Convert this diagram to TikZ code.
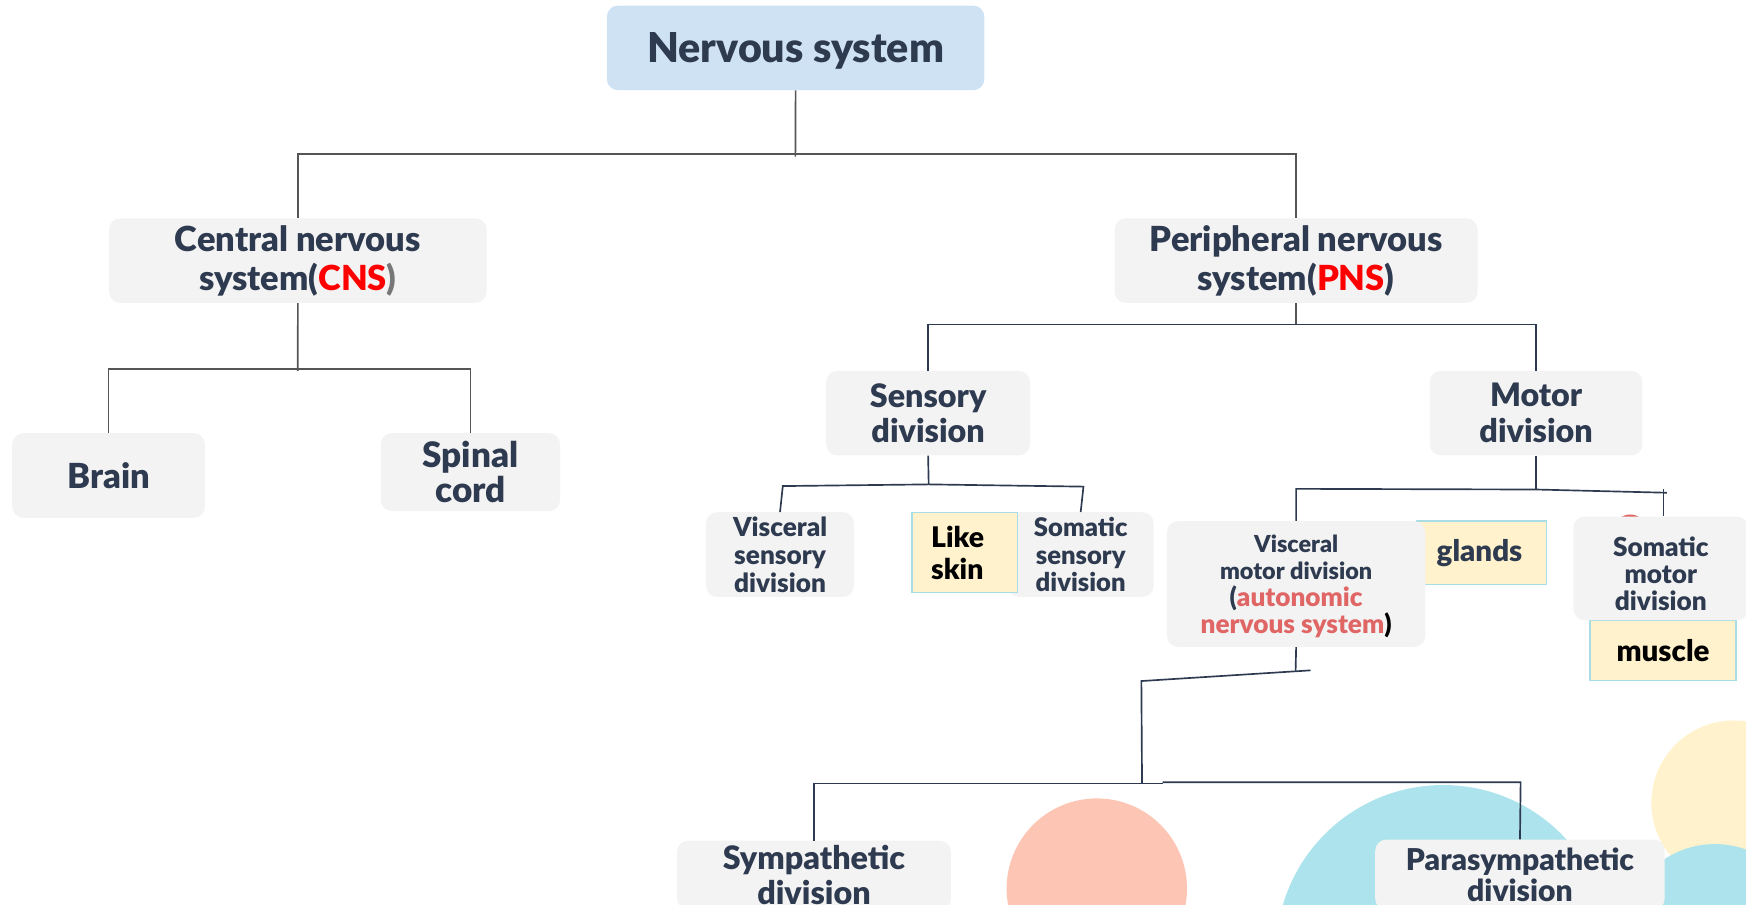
\documentclass[tikz,border=0pt]{standalone}
\usepackage{fontspec}
\setmainfont{Lato}[BoldFont={Lato Black}]
\definecolor{navy}{HTML}{2E3A4F}
\definecolor{boxgray}{HTML}{F3F3F3}
\definecolor{rootblue}{HTML}{CFE2F3}
\definecolor{noteyel}{HTML}{FFF2CC}
\definecolor{notebd}{HTML}{A9DDE5}
\definecolor{salmon}{HTML}{FDC6B4}
\definecolor{cyanc}{HTML}{ACE3EC}
\definecolor{pinkred}{HTML}{E06666}
\definecolor{pred}{HTML}{FF0000}
\definecolor{linegray}{HTML}{555555}
\newcommand\fsz[2]{\fontsize{#1}{#2}\selectfont}
\begin{document}
\begin{tikzpicture}[x=1pt,y=-1pt,
  box/.style={fill=boxgray, rounded corners=10pt, inner sep=0pt, align=center, text=navy},
  rootbox/.style={box, fill=rootblue},
  notebox/.style={draw=notebd, line width=1.2pt, fill=noteyel, inner sep=0pt, align=left},
  topline/.style={draw=linegray, line width=1.5pt},
  subline/.style={draw=navy, line width=1.5pt}]
\useasboundingbox (0,0) rectangle (1568,812);
% decorative circles
\fill[salmon] (985,798) circle[radius=81pt];
\fill[cyanc] (1296,855) circle[radius=150pt];
\fill[noteyel] (1557,721) circle[radius=74pt];
\fill[cyanc] (1540,840) circle[radius=82pt];
\fill[pinkred] (1464,477) circle[radius=15pt];
% boxes
\node[rootbox, minimum width=339pt, minimum height=76pt, font=\bfseries\fsz{37}{42}] (root) at (714.5,43) {\rule{0pt}{33pt}Nervous system};
\node[box, minimum width=339pt, minimum height=76pt, font=\bfseries\fsz{31}{35}] (cns) at (267.5,234) {Central nervous\\system(\textcolor{pred}{CNS}\textcolor{linegray!80}{)}};
\node[box, minimum width=326pt, minimum height=76pt, font=\bfseries\fsz{31}{35}] (pns) at (1164,234) {Peripheral nervous\\system(\textcolor{pred}{PNS})};
\node[box, minimum width=173pt, minimum height=76pt, font=\bfseries\fsz{31}{34}] (brain) at (97.5,427) {Brain};
\node[box, minimum width=161pt, minimum height=70pt, font=\bfseries\fsz{31.5}{32}] (spinal) at (422.5,424) {Spinal\\cord};
\node[box, minimum width=183pt, minimum height=76pt, font=\bfseries\fsz{29}{32}] (sensory) at (833.5,371) {Sensory\\division};
\node[box, minimum width=191pt, minimum height=76pt, font=\bfseries\fsz{29}{32}] (motor) at (1379.5,371) {Motor\\division};
\node[box, minimum width=133pt, minimum height=76pt, font=\bfseries\fsz{23.5}{25}] (vissens) at (700.5,498) {Visceral\\sensory\\division};
\node[box, minimum width=131pt, minimum height=76pt, font=\bfseries\fsz{23}{25}] (somsens) at (970.5,498) {Somatic\\sensory\\division};
\node[notebox, minimum width=95pt, minimum height=72pt] (likeskin) at (866.5,496) {};
\node[anchor=west, inner sep=0pt, align=left, font=\bfseries\fsz{25.5}{29}, text=black] (liketext) at (836,496.5) {Like\\skin};
\node[notebox, minimum width=131pt, minimum height=54pt, font=\bfseries\fsz{26.5}{28}, text=black, align=center] (muscle) at (1493.5,584) {\raisebox{0pt}[19pt][0pt]{}muscle};
\node[notebox, minimum width=117pt, minimum height=57pt] (glands) at (1330.5,496.5) {};
\node[anchor=west, inner sep=0pt, font=\bfseries\fsz{26.5}{28}, text=navy] (glandstext) at (1290,497) {glands};
\node[box, minimum width=157pt, minimum height=93pt, font=\bfseries\fsz{23.5}{24.5}] (sommotor) at (1491.5,510.5) {\rule{0pt}{27pt}Somatic\\motor\\division};
\node[box, minimum width=232pt, minimum height=113pt, font=\bfseries\fsz{21}{24}] (vismotor) at (1164,524.5) {\rule{0pt}{20pt}Visceral\\motor division\\[1pt]{\fsz{23.5}{25}(\textcolor{pinkred}{autonomic}}\\{\fsz{23.5}{25}\textcolor{pinkred}{nervous system}\textcolor{black}{)}}};
\node[box, minimum width=246pt, minimum height=62pt, font=\bfseries\fsz{29}{31}] (symp) at (731,786) {Sympathetic\\division};
\node[box, minimum width=260pt, minimum height=63pt, font=\bfseries\fsz{27}{28}] (para) at (1365,785.5) {Parasympathetic\\division};
% junctions
\coordinate (rj) at (714.3,138.3);
\coordinate (rjb) at (714.3,140.7);
\coordinate (cj) at (267.4,331.4);
\coordinate (cjb) at (267.4,333);
\coordinate (pj) at (1164,291.5);
\coordinate (sj) at (834,435);
\coordinate (sl) at (703,436.5);
\coordinate (sr) at (973,437);
\coordinate (mj) at (1379.5,439.6);
\coordinate (ml) at (1164,439);
\coordinate (mr) at (1497,442.5);
\coordinate (mrt) at (1494,439);
\coordinate (vj) at (1163.5,602.5);
\coordinate (va) at (1177,602);
\coordinate (vb) at (1025,611.6);
\coordinate (vc) at (1025.6,703.5);
\coordinate (vl) at (731,703.5);
\coordinate (vm) at (1044,703.5);
\coordinate (vmb) at (1044,702.5);
\coordinate (vr) at (1365.6,702.5);
% connectors
\draw[topline] (root.south) -- (rjb);
\draw[topline] (cns.north) |- (rj) -| (pns.north);
\draw[topline] (cns.south) -- (cjb);
\draw[topline] (brain.north) |- (cj) -| (spinal.north);
\draw[topline] (pns.south) -- (pj);
\draw[subline] (sensory.north) |- (pj) -| (motor.north);
\draw[subline] (sensory.south) -- (sj);
\draw[subline] (vissens.north) -- (sl) -- (sj) -- (sr) -- (somsens.north);
\draw[subline] (motor.south) -- (mj);
\draw[subline] (vismotor.north) -- (ml) -- (mj) -- (mr);
\draw[subline] (mrt) -- (mrt |- sommotor.north);
\draw[subline] (vismotor.south) -- (vj);
\draw[subline] (va) -- (vb) -- (vc);
\draw[subline] (symp.north) -- (vl) -- (vm);
\draw[subline] (vmb) -- (vr) -- (para.north);
\end{tikzpicture}
\end{document}
